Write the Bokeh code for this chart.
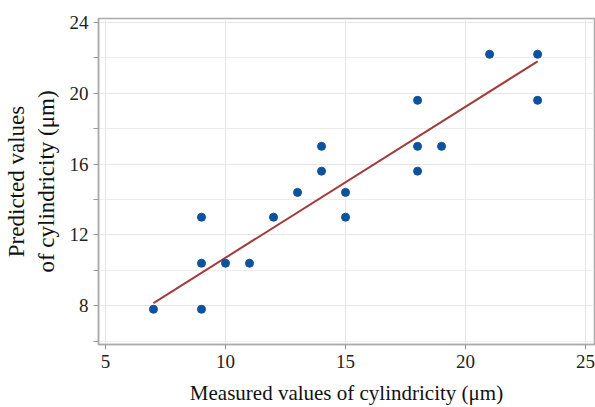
from bokeh.plotting import figure
from bokeh.models import FixedTicker, Range1d
from bokeh.embed import file_html
from bokeh.resources import INLINE

measured = [7, 9, 9, 9, 10, 11, 12, 13, 14, 14, 15, 15, 18, 18, 18, 19, 21, 23, 23]
predicted = [7.8, 7.8, 10.4, 13.0, 10.4, 10.4, 13.0, 14.4, 15.6, 17.0, 14.4, 13.0,
             19.6, 17.0, 15.6, 17.0, 22.2, 22.2, 19.6]
fit_x = [7, 23]
fit_y = [8.15, 21.8]
x_ticks = [5, 10, 15, 20, 25]
y_ticks = [8, 12, 16, 20, 24]
y_minor = [6, 10, 14, 18, 22]

p = figure(width=595, height=407, output_backend="svg", toolbar_location=None,
           x_range=Range1d(4.71, 25.37), y_range=Range1d(5.81, 24.22),
           min_border_left=93, min_border_right=1, min_border_top=18, min_border_bottom=62)

p.line(fit_x, fit_y, line_color="#a23b3b", line_width=2)
p.scatter(measured, predicted, size=8, fill_color="#0b529f", line_color="#0b529f")

font = "Liberation Serif"
p.xaxis.ticker = FixedTicker(ticks=x_ticks)
p.yaxis.ticker = FixedTicker(ticks=y_ticks, minor_ticks=y_minor)
for ax in (p.xaxis[0], p.yaxis[0]):
    ax.major_label_text_font = font
    ax.major_label_text_font_size = "19px"
    ax.major_label_text_color = "#222222"
    ax.axis_label_text_font = font
    ax.axis_label_text_font_style = "normal"
    ax.axis_label_text_color = "#111111"
    ax.axis_line_color = "#aaaaaa"
    ax.axis_line_width = 1.5
    ax.major_tick_line_color = "#999999"
    ax.minor_tick_line_color = "#999999"
    ax.major_tick_out = 5
    ax.major_tick_in = 0
    ax.minor_tick_out = 5
    ax.minor_tick_in = 0
p.xaxis.minor_tick_line_color = None
p.xaxis.axis_label = "Measured values of cylindricity (μm)"
p.yaxis.axis_label = "Predicted values\nof cylindricity (μm)"
p.xaxis.axis_label_text_font_size = "21px"
p.yaxis.axis_label_text_font_size = "23px"
p.xaxis.axis_label_standoff = 10
p.yaxis.axis_label_standoff = 8

p.xgrid.grid_line_color = "#e6e6e6"
p.ygrid.grid_line_color = "#e6e6e6"
p.ygrid.minor_grid_line_color = "#ececec"
p.outline_line_color = "#aaaaaa"
p.outline_line_width = 1.5

open("out.html", "w").write(file_html(p, INLINE))
